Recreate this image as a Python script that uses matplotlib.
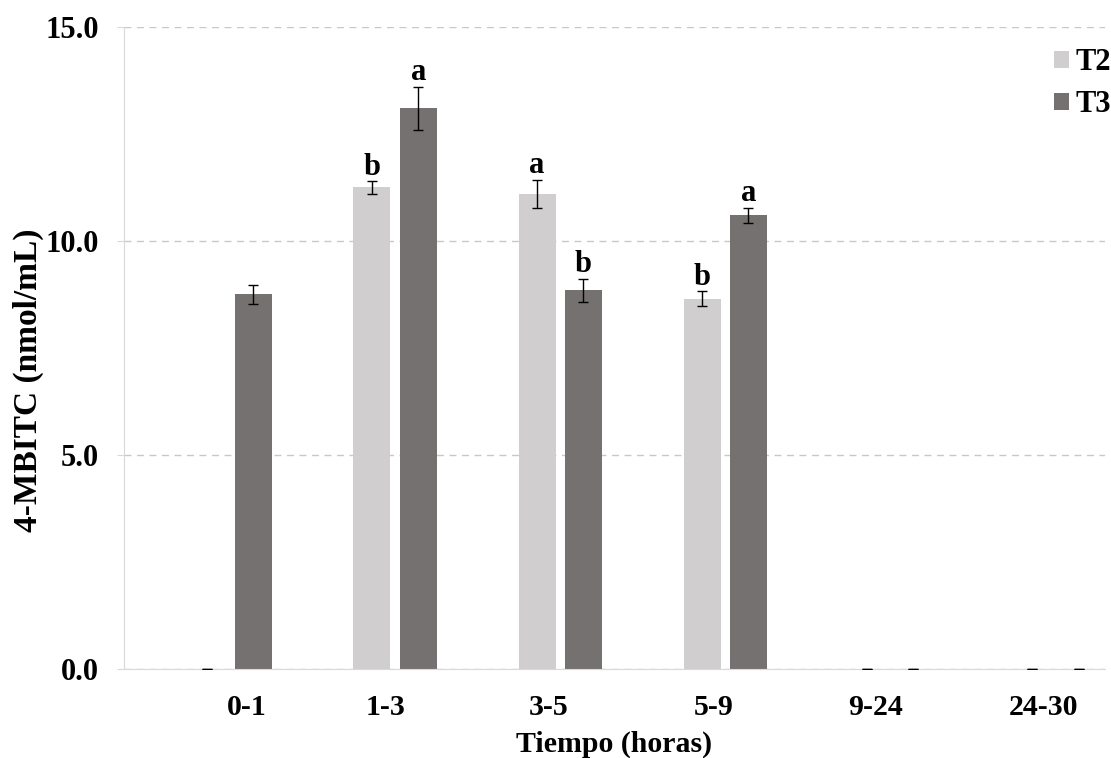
import matplotlib
matplotlib.use("Agg")
import matplotlib.pyplot as plt
import numpy as np

categories = ["0-1", "1-3", "3-5", "5-9", "9-24", "24-30"]
t2_values = [0.0, 11.25, 11.1, 8.65, 0.0, 0.0]
t3_values = [8.75, 13.1, 8.85, 10.6, 0.0, 0.0]
t2_err = [0.0, 0.15, 0.33, 0.17, 0.0, 0.0]
t3_err = [0.23, 0.5, 0.27, 0.18, 0.0, 0.0]
t2_letters = ["", "b", "a", "b", "", ""]
t3_letters = ["", "a", "b", "a", "", ""]

plt.rcParams["font.family"] = ["Liberation Serif", "DejaVu Serif"]
plt.rcParams["font.weight"] = "bold"

fig = plt.figure(figsize=(11.11, 7.58), dpi=100)
ax = fig.add_axes([0.1116, 0.1174, 0.883, 0.847])

c_t2 = "#D0CECE"
c_t3 = "#767171"
x = np.arange(len(categories))
w = 0.224
off = 0.14

ax.bar(x - off, t2_values, w, color=c_t2, label="T2", zorder=2)
ax.bar(x + off, t3_values, w, color=c_t3, label="T3", zorder=2)

ekw = dict(fmt="none", ecolor="black", elinewidth=1.0, capsize=3.5, capthick=1.0, zorder=3)
ax.errorbar(x - off, t2_values, yerr=t2_err, **ekw)
ax.errorbar(x + off, t3_values, yerr=t3_err, **ekw)

# significance letters sit just above each error bar
for xs, vals, errs, letters in ((x - off, t2_values, t2_err, t2_letters),
                                (x + off, t3_values, t3_err, t3_letters)):
    for xi, v, e, s in zip(xs, vals, errs, letters):
        if s:
            ax.text(xi, v + e + 0.15, s, ha="center", va="baseline",
                    fontsize=22, fontweight="bold")

ax.set_ylim(0, 15)
ax.set_xlim(-0.642, 5.30)
ax.set_yticks([0, 5, 10, 15])
ax.set_yticklabels(["0.0", "5.0", "10.0", "15.0"])
ax.yaxis.grid(True, color="#C8C8C8", linestyle=(0, (5, 4)), linewidth=1.0, zorder=0)
ax.set_axisbelow(True)

tick_pos = x + np.array([0.10, -0.06, -0.07, -0.07, -0.09, -0.07])
ax.set_xticks(tick_pos)
ax.set_xticklabels(categories)
ax.tick_params(axis="x", length=0, pad=18, labelsize=21.5)
ax.tick_params(axis="y", length=5, color="#D9D9D9", pad=13, labelsize=22)

for side in ["top", "right"]:
    ax.spines[side].set_visible(False)
ax.spines["left"].set_color("#D9D9D9")
ax.spines["bottom"].set_color("#D9D9D9")

ax.set_xlabel("Tiempo (horas)", fontsize=21.5, fontweight="bold", labelpad=7)
ax.set_ylabel("4-MBITC (nmol/mL)", fontsize=24, fontweight="bold")
ax.yaxis.set_label_coords(-0.0815, 0.45)

leg = fig.legend(loc="upper right", bbox_to_anchor=(1.0, 0.9365), frameon=False,
                 fontsize=22, handlelength=0.5, handleheight=0.5, handletextpad=0.2,
                 labelspacing=0.43, borderaxespad=0.0, borderpad=0.0)
for t in leg.get_texts():
    t.set_fontweight("bold")

fig.savefig("out.png", dpi=100)
